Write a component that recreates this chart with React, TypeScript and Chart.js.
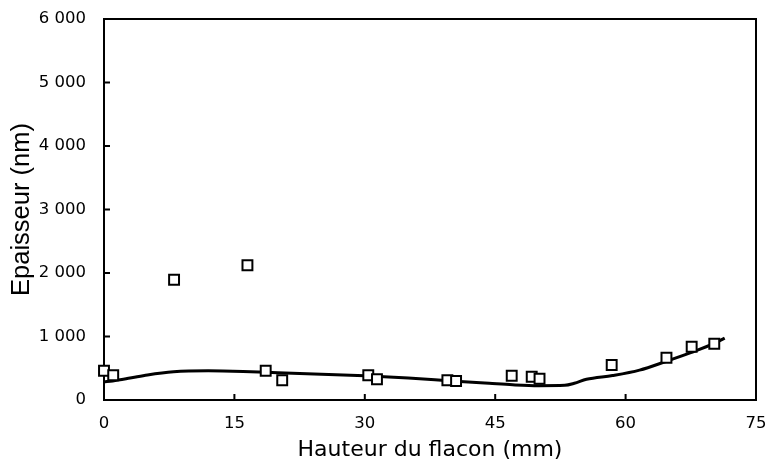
import React, { useEffect, useRef } from "react";
import { Chart, registerables } from "chart.js";

Chart.register(...registerables);

const measX = [0, 1.06, 8.06, 16.5, 18.6, 20.5, 30.4, 31.4, 39.5, 40.5, 46.9, 49.2, 50.1, 58.4, 64.7, 67.6, 70.2];
const measY = [461, 389, 1894, 2121, 461, 310, 389, 326, 310, 299, 383, 367, 335, 551, 666, 839, 887];

const fitX = [0, 1, 3, 5, 8, 12, 16, 20, 25, 30, 35, 40, 44.3, 47, 50, 53, 54.1, 55.5, 58.5, 61.6, 64.7, 67.5, 70.2, 71.4];
const fitY = [288, 300, 345, 395, 445, 460, 450, 430, 405, 380, 345, 300, 263, 240, 226, 231, 263, 326, 385, 470, 610, 745, 890, 975];

const xTicks = [0, 15, 30, 45, 60, 75];
const yTicks = [0, 1000, 2000, 3000, 4000, 5000, 6000];

const WIDE = "'DejaVu Sans', sans-serif";
const ARIAL = "'Liberation Sans', Arial, sans-serif";

function fmt(v: number): string {
  const s = String(Math.round(v));
  return s.replace(/\B(?=(\d{3})+(?!\d))/g, " ");
}

const framePlugin = {
  id: "frameTicks",
  beforeDatasetsDraw(chart: any) {
    const { ctx, chartArea } = chart;
    const { left, right, top, bottom } = chartArea;
    const xs = chart.scales.x;
    const ys = chart.scales.y;
    ctx.save();
    ctx.strokeStyle = "#000";
    ctx.lineWidth = 2;
    ctx.beginPath();
    ctx.rect(left, top, right - left, bottom - top);
    ctx.stroke();
    ctx.beginPath();
    for (const t of yTicks) {
      const y = ys.getPixelForValue(t);
      if (t === yTicks[0] || t === yTicks[yTicks.length - 1]) continue;
      ctx.moveTo(left, y);
      ctx.lineTo(left + 6, y);
    }
    for (const t of xTicks) {
      const x = xs.getPixelForValue(t);
      if (t === xTicks[0] || t === xTicks[xTicks.length - 1]) continue;
      ctx.moveTo(x, bottom);
      ctx.lineTo(x, bottom - 6);
    }
    ctx.stroke();
    ctx.restore();
  },
};

export default function App() {
  const ref = useRef<HTMLCanvasElement | null>(null);
  useEffect(() => {
    document.body.style.margin = "0";
    const canvas = ref.current;
    if (!canvas) return;
    const chart = new Chart(canvas, {
      type: "scatter",
      data: {
        datasets: [
          {
            label: "Mesures",
            data: measX.map((x, i) => ({ x, y: measY[i] })),
            pointStyle: "rect",
            pointRadius: 7,
            pointBorderWidth: 2,
            pointBackgroundColor: "#fff",
            pointBorderColor: "#000",
            showLine: false,
            clip: false,
            order: 0,
          } as any,
          {
            label: "Ajustement",
            data: fitX.map((x, i) => ({ x, y: fitY[i] })),
            showLine: true,
            borderColor: "#000",
            borderWidth: 3,
            pointRadius: 0,
            cubicInterpolationMode: "monotone",
            fill: false,
            clip: false,
            order: 1,
          } as any,
        ],
      },
      options: {
        animation: false,
        responsive: false,
        maintainAspectRatio: false,
        devicePixelRatio: 1,
        layout: { padding: { left: 0, right: 12, top: 19, bottom: 0 } },
        plugins: { legend: { display: false }, tooltip: { enabled: false } },
        scales: {
          x: {
            type: "linear",
            min: 0,
            max: 75,
            afterBuildTicks: (s: any) => {
              s.ticks = xTicks.map((v) => ({ value: v }));
            },
            afterFit: (s: any) => {
              s.height = 66;
              s.paddingLeft = 0;
              s.paddingRight = 0;
            },
            grid: { display: false, drawTicks: false },
            border: { display: false },
            ticks: {
              color: "#000",
              font: { family: WIDE, size: 16.5 },
              padding: 14,
              maxRotation: 0,
              autoSkip: false,
              callback: (v: any) => String(v),
            },
            title: {
              display: true,
              text: "Hauteur du flacon (mm)",
              color: "#000",
              font: { family: WIDE, size: 22, lineHeight: 1 },
              padding: { top: 0, bottom: 4.5 },
            },
          },
          y: {
            type: "linear",
            min: 0,
            max: 6000,
            afterBuildTicks: (s: any) => {
              s.ticks = yTicks.map((v) => ({ value: v }));
            },
            afterFit: (s: any) => {
              s.width = 104;
              s.paddingTop = 0;
              s.paddingBottom = 0;
            },
            grid: { display: false, drawTicks: false },
            border: { display: false },
            ticks: {
              color: "#000",
              font: { family: WIDE, size: 16.5 },
              padding: 18,
              autoSkip: false,
              callback: (v: any) => fmt(Number(v)),
            },
            title: {
              display: true,
              text: "Epaisseur (nm)",
              color: "#000",
              font: { family: ARIAL, size: 25.5, lineHeight: 1 },
              padding: { top: 9.5, bottom: 0 },
            },
          },
        },
      },
      plugins: [framePlugin],
    });
    return () => chart.destroy();
  }, []);
  return (
    <div style={{ width: 768, height: 466, background: "#fff" }}>
      <canvas ref={ref} width={768} height={466} style={{ display: "block" }} />
    </div>
  );
}
